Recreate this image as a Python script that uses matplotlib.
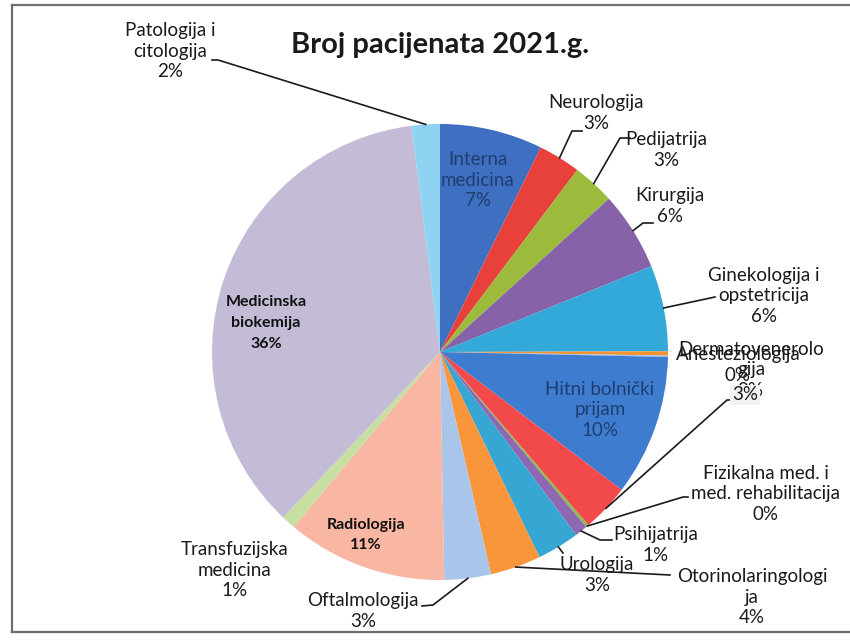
import numpy as np
import matplotlib
matplotlib.use("Agg")
import matplotlib.pyplot as plt
from matplotlib.lines import Line2D

plt.rcParams['font.family'] = ['Lato', 'DejaVu Sans']

# data (clockwise from 12 o'clock)
odjeli = ['Interna\nmedicina', 'Neurologija', 'Pedijatrija', 'Kirurgija',
          'Ginekologija i\nopstetricija', 'Dermatovenerolo\ngija', 'Anesteziologija',
          'Hitni bolnički\nprijam', '', 'Fizikalna med. i\nmed. rehabilitacija',
          'Psihijatrija', 'Urologija', 'Otorinolaringologi\nja', 'Oftalmologija',
          'Radiologija', 'Transfuzijska\nmedicina', 'Medicinska\nbiokemija',
          'Patologija i\ncitologija']
udjeli = [7.3, 3.0, 3.0, 5.6, 6.1, 0.3, 0.1, 10.0, 3.4, 0.2, 0.9, 3.0, 3.6, 3.3,
          11.4, 1.0, 36.0, 2.0]
boje = ['#3F6FC0', '#E8413C', '#9CBB3C', '#8663A8', '#33A9D9', '#F39233', '#9FC0E6',
        '#3E7CCF', '#F24A4A', '#8DBB4A', '#8E69B2', '#35A7D2', '#F9963C', '#AAC5EA',
        '#F8B6A3', '#C5E0A0', '#C4BBD6', '#8ED3F2']

W, H = 850, 642
fig = plt.figure(figsize=(W / 100, H / 100), dpi=100)
ax = fig.add_axes([0, 0, 1, 1])

cx, cy, R = 440, H - 352, 228
wedges, _ = ax.pie(udjeli, colors=boje, startangle=90, counterclock=False,
                   center=(cx, cy), radius=R, wedgeprops=dict(linewidth=0))
ax.set_xlim(0, W)
ax.set_ylim(0, H)
ax.set_aspect('equal')
ax.axis('off')

ukupno = sum(udjeli)
pct = [f"{round(v / ukupno * 100)}%" for v in udjeli]

# label positions (pixel, top origin) and leader text-side points
pos = {0: (478, 180), 1: (596, 113), 2: (666, 150), 3: (670, 206), 4: (764, 296),
       5: (751, 370), 6: (738, 365), 7: (600, 410), 8: (745, 395), 9: (766, 494),
       10: (656, 545), 11: (597, 575), 12: (752, 597), 13: (363, 611),
       14: (366, 535), 15: (235, 570), 16: (266, 323), 17: (170, 51)}
vodilice = {1: [(582, 131), (572, 131)], 2: [(630, 138), (620, 138)],
            3: [(653, 223), (643, 223)], 4: [(715, 297)], 8: [(735, 400), (727, 400)],
            9: [(688, 497), (683, 497)], 10: [(612, 540), (600, 540)],
            11: [(563, 553)], 12: [(670, 575)], 13: [(422, 606), (433, 605)],
            17: [(212, 60), (218, 60)]}
unutra = {0: '#1F3E70', 7: '#1F3E70', 14: '#111111', 16: '#111111'}
bold = {14, 16}

for i, w in enumerate(wedges):
    if i in vodilice:
        mid = np.deg2rad((w.theta1 + w.theta2) / 2)
        ax_pt = (cx + R * np.cos(mid), cy + R * np.sin(mid))
        xs = [p[0] for p in vodilice[i]] + [ax_pt[0]]
        ys = [H - p[1] for p in vodilice[i]] + [ax_pt[1]]
        ax.plot(xs, ys, color='#1a1a1a', lw=1.2, zorder=3)

    tekst = odjeli[i] + '\n' + pct[i] if odjeli[i] else pct[i]
    x, y = pos[i]
    kw = dict(ha='center', va='center', fontsize=13.5, linespacing=1.25, zorder=5,
              color=unutra.get(i, '#1a1a1a'), fontweight='normal')
    if i in bold:
        kw.update(fontsize=11.5, fontweight='bold', linespacing=1.6)
    if i == 8:
        kw['bbox'] = dict(boxstyle='square,pad=0.1', fc='#F2F2F2', ec='none')
        kw['zorder'] = 6
    ax.text(x, H - y, tekst, **kw)

ax.text(440, H - 45, 'Broj pacijenata 2021.g.', ha='center', va='center',
        fontsize=21, fontweight='bold', color='#1a1a1a')

# scanned chart border
for xs, ys in [([12, W], [H - 5, H - 5]), ([12, W], [H - 632, H - 632]),
               ([12, 12], [H - 5, H - 632])]:
    fig.add_artist(Line2D([x / W for x in xs], [y / H for y in ys],
                          color='#6E6E6E', lw=1.6))

fig.savefig('out.png', dpi=100)
